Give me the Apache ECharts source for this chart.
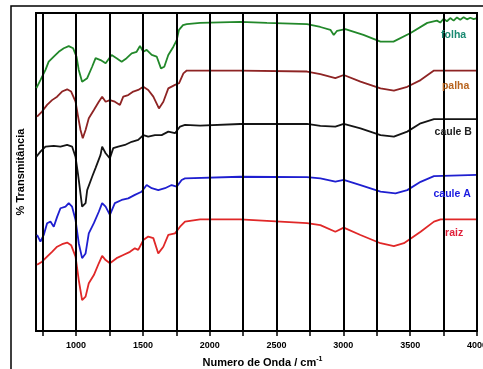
<!DOCTYPE html>
<html>
<head>
<meta charset="utf-8">
<script src="https://cdn.jsdelivr.net/npm/echarts@6/dist/echarts.min.js"></script>
<style>
html,body{margin:0;padding:0;background:#fff;}
#chart{width:483px;height:369px;}
</style>
</head>
<body>
<div id="chart"></div>
<script>
// espectros FTIR: [numero de onda, % transmitancia]
var folha = [[703,76.4],[733,78.9],[771,82.1],[795,84.7],[833,86.3],[870,87.8],[908,88.9],[945,89.6],[978,88.9],[1003,86.3],[1020,82.1],[1045,78.4],[1083,79.5],[1120,83.1],[1146,85.8],[1183,85.2],[1221,84.2],[1266,86.8],[1303,85.8],[1341,84.7],[1378,85.8],[1416,87.3],[1453,87.8],[1478,89.6],[1503,87.8],[1528,88.4],[1566,86.8],[1603,86.3],[1635,82.6],[1660,83.1],[1690,86.8],[1728,89.4],[1753,91.5],[1770,94.7],[1800,96.2],[1828,96.5],[1928,96.9],[2228,97.2],[2428,96.9],[2728,96.5],[2828,95.6],[2903,94.7],[2928,93.1],[2953,94.4],[3015,94.9],[3150,93.1],[3278,91.0],[3375,91.0],[3503,93.7],[3628,96.9],[3700,97.6],[3725,97.0],[3750,98.2],[3775,97.4],[3800,98.4],[3825,97.6],[3850,98.6],[3875,97.9],[3900,98.7],[3925,98.0],[3950,98.5],[3975,98.1],[4000,98.4]];
var palha = [[708,67.4],[745,69.0],[783,71.1],[820,72.6],[858,73.7],[895,75.3],[933,76.0],[963,75.3],[996,72.1],[1013,67.9],[1033,63.2],[1050,60.6],[1071,63.2],[1095,66.9],[1133,69.5],[1170,72.1],[1195,73.7],[1221,72.1],[1253,72.6],[1290,72.1],[1328,71.1],[1353,73.7],[1390,74.2],[1428,75.3],[1465,75.8],[1503,76.8],[1540,75.8],[1578,73.7],[1620,70.0],[1653,72.1],[1690,76.3],[1740,77.4],[1770,77.9],[1803,81.0],[1828,81.9],[2228,81.9],[2728,81.6],[2828,80.8],[2940,79.5],[3003,80.5],[3128,78.4],[3278,76.3],[3378,75.6],[3478,76.8],[3578,78.9],[3678,81.9],[4000,81.9]];
var cauleB = [[703,54.8],[733,56.4],[771,58.0],[833,58.2],[883,58.0],[933,58.5],[970,58.0],[996,54.7],[1013,49.7],[1020,47.5],[1045,39.1],[1071,40.2],[1083,44.3],[1120,48.5],[1146,51.3],[1183,55.4],[1195,58.0],[1221,55.9],[1253,54.3],[1278,57.5],[1315,58.0],[1365,58.5],[1416,59.5],[1465,60.1],[1503,61.6],[1540,61.1],[1590,61.6],[1640,61.6],[1690,62.7],[1740,62.2],[1778,64.3],[1815,64.8],[1928,64.6],[2228,65.1],[2728,65.1],[2828,64.5],[2940,64.3],[3003,65.1],[3128,63.7],[3278,61.6],[3378,61.1],[3478,62.7],[3578,65.3],[3678,66.6],[4000,66.6]];
var cauleA = [[708,30.2],[733,28.1],[758,30.2],[783,33.9],[808,34.4],[833,32.8],[858,35.9],[883,38.6],[921,39.1],[945,40.2],[970,39.1],[996,34.9],[1020,27.6],[1045,22.9],[1071,24.4],[1095,30.7],[1133,33.9],[1170,37.5],[1195,40.2],[1221,39.1],[1253,36.5],[1290,40.2],[1341,41.2],[1390,41.7],[1440,42.8],[1490,43.8],[1528,45.9],[1566,44.9],[1615,44.3],[1665,44.9],[1715,45.9],[1753,45.4],[1790,47.5],[1815,48.0],[2228,48.5],[2728,48.4],[2828,48.0],[2940,47.0],[3003,47.5],[3128,45.9],[3278,43.8],[3390,43.3],[3478,44.3],[3578,46.9],[3678,48.7],[4000,49.1]];
var raiz = [[708,20.8],[745,21.8],[783,23.4],[820,24.9],[858,26.5],[895,27.3],[933,27.8],[963,27.0],[996,23.4],[1020,16.0],[1045,9.7],[1071,10.8],[1095,15.0],[1133,17.6],[1170,21.3],[1195,23.6],[1221,22.3],[1253,21.3],[1303,22.9],[1353,23.9],[1403,24.9],[1440,26.0],[1465,25.5],[1503,28.6],[1540,29.7],[1578,29.2],[1615,24.4],[1653,26.5],[1690,30.2],[1740,30.7],[1778,32.8],[1815,34.4],[1928,35.1],[2228,35.1],[2728,33.9],[2828,33.3],[2940,31.2],[3003,32.5],[3128,30.2],[3278,27.6],[3378,26.7],[3453,27.6],[3578,31.2],[3678,34.4],[3728,35.1],[4000,35.1]];

var seriesNames = ['folha', 'palha', 'caule B', 'caule A', 'raiz'];
var seriesData = [folha, palha, cauleB, cauleA, raiz];
var lineColors = ['#22882a', '#8e2424', '#151515', '#1f1fd0', '#e02828'];
var labelColors = ['#1a8a72', '#b8641e', '#222222', '#1a1ae0', '#e0203a'];
// onde ficam os nomes das amostras (coordenadas do grafico)
var labelPos = [[3825, 93.1], [3840, 77.1], [3822, 62.7], [3814, 43.1], [3829, 30.8]];

var gridLines = [750, 1000, 1250, 1500, 1750, 2000, 2250, 2500, 2750, 3000, 3250, 3500, 3750, 4000];
var tickLabels = [1000, 1500, 2000, 2500, 3000, 3500, 4000];

var myChart = echarts.init(document.getElementById('chart'));

var series = [{
    type: 'line',
    data: [],
    silent: true,
    z: 1,
    markLine: {
        silent: true,
        symbol: ['none', 'none'],
        label: {show: false},
        lineStyle: {color: '#000', width: 2, type: 'solid'},
        data: gridLines.map(function (v) { return {xAxis: v}; })
    }
}];

seriesNames.forEach(function (name, i) {
    series.push({
        name: name,
        type: 'line',
        data: seriesData[i],
        showSymbol: false,
        symbol: 'none',
        z: 3,
        lineStyle: {color: lineColors[i], width: 1.8},
        markPoint: {
            symbol: 'circle',
            symbolSize: 0,
            silent: true,
            label: {
                show: true,
                position: 'inside',
                formatter: name,
                color: labelColors[i],
                fontSize: 10.5,
                fontWeight: 'bold',
                fontFamily: 'Liberation Sans, Arial, sans-serif'
            },
            data: [{coord: labelPos[i]}]
        }
    });
});

var option = {
    animation: false,
    backgroundColor: '#fff',
    graphic: [{
        type: 'rect',
        shape: {x: 11, y: 6, width: 520, height: 420},
        style: {fill: 'none', stroke: '#000', lineWidth: 1.5},
        z: -1
    }],
    grid: {
        left: 36,
        right: 6,
        top: 13,
        bottom: 38,
        outerBoundsMode: 'none',
        containLabel: false,
        show: true,
        borderColor: '#000',
        borderWidth: 2,
        backgroundColor: '#fff'
    },
    xAxis: {
        type: 'value',
        min: 700,
        max: 4000,
        name: 'Numero de Onda / cm{sup|-1}',
        nameLocation: 'middle',
        nameGap: 25,
        nameTextStyle: {
            color: '#000',
            fontSize: 11,
            fontWeight: 'bold',
            fontFamily: 'Liberation Sans, Arial, sans-serif',
            padding: [0, 0, 0, 12],
            rich: {
                sup: {fontSize: 7, fontWeight: 'bold', verticalAlign: 'top', padding: [0, 0, 6, 0]}
            }
        },
        axisLine: {onZero: false, lineStyle: {color: '#000', width: 2}},
        axisTick: {
            show: true,
            length: 5,
            customValues: gridLines,
            lineStyle: {color: '#000', width: 1.5}
        },
        axisLabel: {
            customValues: tickLabels,
            formatter: function (v) { return String(v); },
            color: '#000',
            fontSize: 9,
            fontWeight: 'bold',
            fontFamily: 'Liberation Sans Narrow, Liberation Sans, Arial, sans-serif',
            margin: 10
        },
        splitLine: {show: false}
    },
    yAxis: {
        type: 'value',
        min: 0,
        max: 100,
        name: '% Transmitância',
        nameLocation: 'middle',
        nameGap: 10,
        nameTextStyle: {
            color: '#000',
            fontSize: 11,
            fontWeight: 'bold',
            fontFamily: 'Liberation Sans, Arial, sans-serif'
        },
        axisLine: {show: true, onZero: false, lineStyle: {color: '#000', width: 2}},
        axisTick: {show: false},
        axisLabel: {show: false},
        splitLine: {show: false}
    },
    series: series
};

myChart.setOption(option);
</script>
</body>
</html>
